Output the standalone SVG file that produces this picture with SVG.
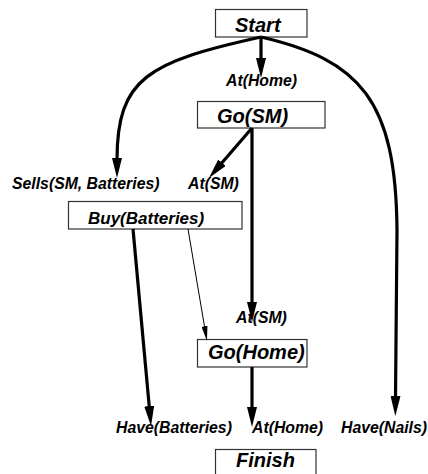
<svg xmlns="http://www.w3.org/2000/svg" width="428" height="474" viewBox="0 0 428 474">
<style>
.box{fill:#fff;stroke:#333;stroke-width:1.2}
.t{font-family:"Liberation Sans",Arial,sans-serif;font-weight:bold;font-style:italic;fill:#000}
.title{font-size:20px}
.lab{font-size:15.8px}
.thick{fill:none;stroke:#000;stroke-width:3.2}
.thin{fill:none;stroke:#000;stroke-width:1}
</style>
<defs>
<marker id="ah" markerUnits="userSpaceOnUse" markerWidth="20" markerHeight="10" refX="2" refY="5" orient="auto" viewBox="0 0 20 10">
<path d="M0,0 L20,5 L0,10 z" fill="#000"/>
</marker>
<marker id="ahs" markerUnits="userSpaceOnUse" markerWidth="15" markerHeight="6" refX="2" refY="3" orient="auto" viewBox="0 0 15 6">
<path d="M0,0 L15,3 L0,6 z" fill="#000"/>
</marker>
</defs>
<rect width="428" height="474" fill="#fff"/>
<g id="start"><rect class="box" x="215.5" y="9.5" width="91.5" height="27.5"/><text class="t title" x="235" y="31.5">Start</text></g>
<g id="gosm"><rect class="box" x="197.5" y="101.5" width="127.5" height="26.5"/><text class="t title" x="217" y="123">Go(SM)</text></g>
<g id="buy"><rect class="box" x="68.5" y="201.5" width="173.5" height="27.5"/><text class="t" style="font-size:17px" x="88" y="224">Buy(Batteries)</text></g>
<g id="gohome"><rect class="box" x="197.5" y="339.5" width="109.5" height="27.5"/><text class="t title" x="208" y="358.5">Go(Home)</text></g>
<g id="finish"><rect class="box" x="215.5" y="449.5" width="100.5" height="40"/><text class="t title" x="236" y="467">Finish</text></g>
<g id="cond-athome1"><text class="t lab" x="226" y="86">At(Home)</text></g>
<g id="cond-sells"><text class="t lab" x="12" y="189">Sells(SM, Batteries)</text></g>
<g id="cond-atsm1"><text class="t lab" x="188" y="189">At(SM)</text></g>
<g id="cond-atsm2"><text class="t lab" x="236" y="323">At(SM)</text></g>
<g id="cond-havebat"><text class="t lab" x="116" y="433">Have(Batteries)</text></g>
<g id="cond-athome2"><text class="t lab" x="252" y="433">At(Home)</text></g>
<g id="cond-havenails"><text class="t lab" x="341" y="433">Have(Nails)</text></g>
<g id="connectors">
<path class="thick" d="M261,37 L261,60" marker-end="url(#ah)"/>
<path class="thick" d="M261,37 C148,62 117,78 117,160" marker-end="url(#ah)"/>
<path class="thick" d="M261,37 C360,60 396,100 397,230 L395.5,398" marker-end="url(#ah)"/>
<path class="thick" d="M252,128 L220.7,164.3" marker-end="url(#ah)"/>
<path class="thick" d="M252,128 L252,304" marker-end="url(#ah)"/>
<path class="thin" d="M188,229 L204.8,328.2" marker-end="url(#ahs)"/>
<path class="thick" d="M133,229 L149.4,408.1" marker-end="url(#ah)"/>
<path class="thick" d="M252,367 L252,409" marker-end="url(#ah)"/>
</g>
</svg>
